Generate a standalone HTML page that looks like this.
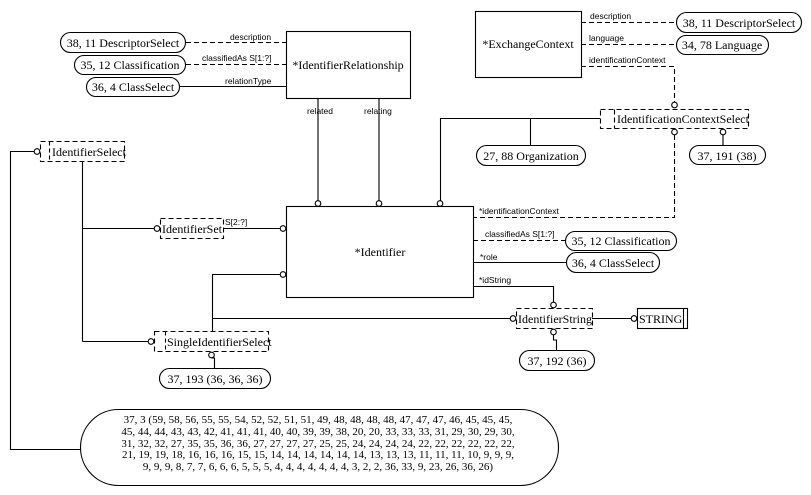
<!DOCTYPE html>
<html><head><meta charset="utf-8"><style>
html,body{margin:0;padding:0;background:#fff;}
svg{display:block;}
</style></head><body>
<svg width="811" height="495" viewBox="0 0 811 495" xmlns="http://www.w3.org/2000/svg">
<g fill="none" stroke="#000" stroke-width="1.1">
<rect x="286.5" y="31.5" width="124" height="67"/>
<rect x="60.5" y="32.5" width="125" height="20" rx="10"/>
<rect x="74.5" y="55.5" width="111" height="19" rx="9.5"/>
<rect x="86.5" y="77.5" width="93" height="19" rx="9.5"/>
<line x1="186" y1="42.5" x2="286" y2="42.5" stroke-dasharray="5,3"/>
<line x1="186" y1="64.5" x2="286" y2="64.5" stroke-dasharray="5,3"/>
<line x1="179" y1="86.5" x2="286" y2="86.5"/>
<line x1="318" y1="98" x2="318" y2="201"/>
<line x1="379" y1="98" x2="379" y2="201"/>
<circle cx="318" cy="203.5" r="2.8"/>
<circle cx="379" cy="203.5" r="2.8"/>
<circle cx="440" cy="203.5" r="2.8"/>
<rect x="475.5" y="11.5" width="106" height="66"/>
<rect x="676.5" y="12.5" width="125" height="20" rx="10"/>
<rect x="676.5" y="35.5" width="92" height="19" rx="9.5"/>
<line x1="581" y1="22.5" x2="676" y2="22.5" stroke-dasharray="5,3"/>
<line x1="581" y1="44.5" x2="676" y2="44.5" stroke-dasharray="5,3"/>
<polyline points="581,66.5 674.5,66.5 674.5,102" stroke-dasharray="5,3"/>
<circle cx="674.5" cy="105" r="2.8"/>
<rect x="600.5" y="109.5" width="148" height="19" stroke-dasharray="5,3"/>
<line x1="614.5" y1="109.5" x2="614.5" y2="128.5" stroke-dasharray="5,3"/>
<circle cx="674.5" cy="132" r="2.8"/>
<circle cx="723" cy="132" r="2.8"/>
<line x1="723" y1="135" x2="723" y2="145"/>
<rect x="689.5" y="145.5" width="76" height="19" rx="9.5"/>
<polyline points="674.5,135 674.5,217.5 473,217.5" stroke-dasharray="5,3"/>
<polyline points="600,118.5 440.5,118.5 440.5,201"/>
<line x1="530.5" y1="118.5" x2="530.5" y2="145"/>
<rect x="476.5" y="145.5" width="109" height="20" rx="10"/>
<rect x="286.5" y="206.5" width="187" height="91"/>
<line x1="473" y1="240.5" x2="565" y2="240.5" stroke-dasharray="5,3"/>
<rect x="565.5" y="231.5" width="111" height="19" rx="9.5"/>
<line x1="473" y1="262.5" x2="566" y2="262.5"/>
<rect x="566.5" y="252.5" width="93" height="20" rx="10"/>
<polyline points="473,286.5 553.5,286.5 553.5,302"/>
<circle cx="553.5" cy="305" r="2.8"/>
<rect x="516.5" y="308.5" width="76" height="20" stroke-dasharray="5,3"/>
<circle cx="513" cy="318.5" r="2.8"/>
<line x1="212.5" y1="318.5" x2="510" y2="318.5"/>
<line x1="592" y1="318.5" x2="631" y2="318.5"/>
<circle cx="634" cy="318.5" r="2.8"/>
<rect x="637.5" y="308.5" width="50" height="20"/>
<line x1="683.5" y1="308.5" x2="683.5" y2="328.5"/>
<circle cx="553.5" cy="332" r="2.8"/>
<polyline points="553.5,335 553.5,340 556.5,340 556.5,350"/>
<rect x="519.5" y="350.5" width="75" height="20" rx="10"/>
<rect x="40.5" y="141.5" width="84" height="20" stroke-dasharray="5,3"/>
<line x1="49.5" y1="141.5" x2="49.5" y2="161.5" stroke-dasharray="4,3"/>
<circle cx="37" cy="151.5" r="2.8"/>
<polyline points="34,151.5 10.5,151.5 10.5,449.5 80,449.5"/>
<line x1="82.5" y1="161" x2="82.5" y2="341.5"/>
<line x1="82.5" y1="228.5" x2="154" y2="228.5"/>
<circle cx="157" cy="228.5" r="2.8"/>
<rect x="160.5" y="218.5" width="63" height="20" stroke-dasharray="5,3"/>
<line x1="223" y1="228.5" x2="280" y2="228.5"/>
<circle cx="283" cy="228.5" r="2.8"/>
<polyline points="212.5,331 212.5,274.5 280,274.5"/>
<circle cx="283" cy="274.5" r="2.8"/>
<line x1="82.5" y1="341.5" x2="148" y2="341.5"/>
<circle cx="151" cy="341.5" r="2.8"/>
<rect x="154.5" y="331.5" width="114" height="20" stroke-dasharray="5,3"/>
<line x1="165.5" y1="331.5" x2="165.5" y2="351.5" stroke-dasharray="4,3"/>
<circle cx="211.5" cy="355" r="2.8"/>
<polyline points="211.5,358 214.5,358 214.5,368"/>
<rect x="159.5" y="368.5" width="111" height="20" rx="10"/>
<rect x="80.5" y="409.5" width="478" height="76" rx="38"/>
</g>
<g font-family="'Liberation Serif', 'Times New Roman', serif" font-size="12" fill="#000">
<text x="348" y="69" text-anchor="middle">*IdentifierRelationship</text>
<text x="123" y="47" text-anchor="middle">38, 11 DescriptorSelect</text>
<text x="130" y="69" text-anchor="middle">35, 12 Classification</text>
<text x="133" y="91" text-anchor="middle">36, 4 ClassSelect</text>
<text x="528" y="48" text-anchor="middle">*ExchangeContext</text>
<text x="739" y="27" text-anchor="middle">38, 11 DescriptorSelect</text>
<text x="722" y="49" text-anchor="middle">34, 78 Language</text>
<text x="617" y="123">IdentificationContextSelect</text>
<text x="531" y="160" text-anchor="middle">27, 88 Organization</text>
<text x="727" y="160" text-anchor="middle">37, 191 (38)</text>
<text x="380" y="256" text-anchor="middle">*Identifier</text>
<text x="621" y="245" text-anchor="middle">35, 12 Classification</text>
<text x="613" y="267" text-anchor="middle">36, 4 ClassSelect</text>
<text x="518" y="323">IdentifierString</text>
<text x="639" y="323">STRING</text>
<text x="557" y="365" text-anchor="middle">37, 192 (36)</text>
<text x="52" y="156">IdentifierSelect</text>
<text x="162" y="233">IdentifierSet</text>
<text x="167" y="346">SingleIdentifierSelect</text>
<text x="215" y="383" text-anchor="middle">37, 193 (36, 36, 36)</text>
</g>
<g font-family="'Liberation Sans', Arial, sans-serif" font-size="8.5" fill="#000">
<text x="230" y="40">description</text>
<text x="202" y="61">classifiedAs S[1:?]</text>
<text x="225" y="84">relationType</text>
<text x="307" y="114">related</text>
<text x="364" y="114">relating</text>
<text x="590" y="19">description</text>
<text x="589" y="41">language</text>
<text x="589" y="63">identificationContext</text>
<text x="479" y="214">*identificationContext</text>
<text x="485" y="237">classifiedAs S[1:?]</text>
<text x="480" y="260">*role</text>
<text x="479" y="283">*idString</text>
<text x="225" y="225">S[2:?]</text>
</g>
<g font-family="'Liberation Serif', 'Times New Roman', serif" font-size="11" fill="#000" text-anchor="middle">
<text x="318" y="423">37, 3 (59, 58, 56, 55, 55, 54, 52, 52, 51, 51, 49, 48, 48, 48, 48, 47, 47, 47, 46, 45, 45, 45,</text>
<text x="318" y="435">45, 44, 44, 43, 43, 42, 41, 41, 41, 40, 40, 39, 39, 38, 20, 20, 33, 33, 33, 31, 29, 30, 29, 30,</text>
<text x="318" y="447">31, 32, 32, 27, 35, 35, 36, 36, 27, 27, 27, 27, 25, 25, 24, 24, 24, 24, 22, 22, 22, 22, 22, 22,</text>
<text x="318" y="458">21, 19, 19, 18, 16, 16, 16, 15, 15, 14, 14, 14, 14, 14, 14, 13, 13, 13, 11, 11, 11, 10, 9, 9, 9,</text>
<text x="318" y="470">9, 9, 9, 8, 7, 7, 6, 6, 6, 5, 5, 5, 4, 4, 4, 4, 4, 4, 4, 3, 2, 2, 36, 33, 9, 23, 26, 36, 26)</text>
</g>
</svg>
</body></html>
